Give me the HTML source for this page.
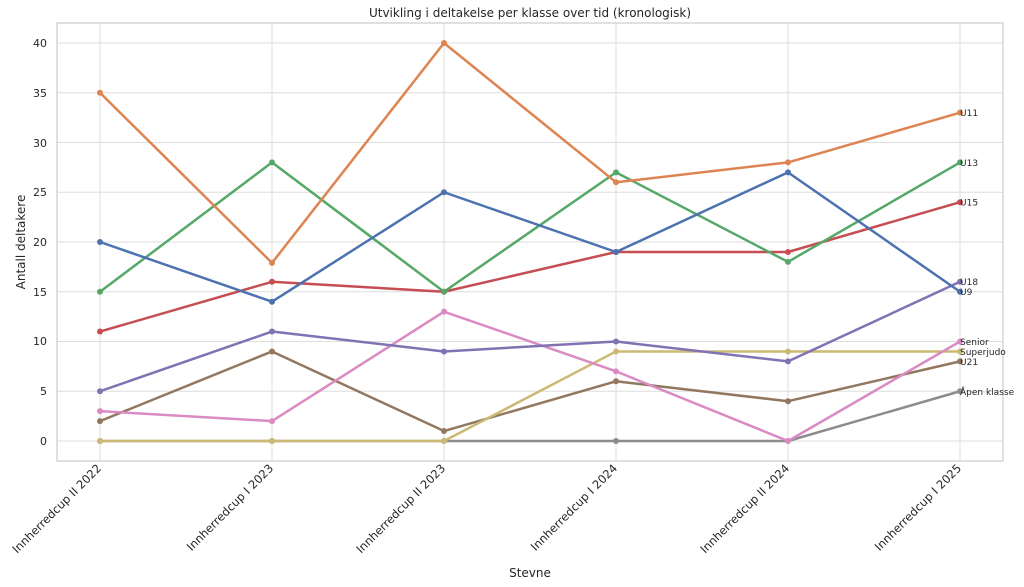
<!DOCTYPE html>
<html><head><meta charset="utf-8"><style>body{margin:0;background:#fff}svg{display:block}text{font-family:"DejaVu Sans","Liberation Sans",sans-serif;fill:#262626}</style></head>
<body>
<svg width="1024" height="587" xmlns="http://www.w3.org/2000/svg">
<rect width="1024" height="587" fill="#fff"/>
<g stroke="#dddddd" stroke-width="1">
<line x1="57" x2="1003" y1="441" y2="441"/><line x1="57" x2="1003" y1="391.25" y2="391.25"/><line x1="57" x2="1003" y1="341.5" y2="341.5"/><line x1="57" x2="1003" y1="291.75" y2="291.75"/><line x1="57" x2="1003" y1="242" y2="242"/><line x1="57" x2="1003" y1="192.25" y2="192.25"/><line x1="57" x2="1003" y1="142.5" y2="142.5"/><line x1="57" x2="1003" y1="92.75" y2="92.75"/><line x1="57" x2="1003" y1="43" y2="43"/>
<line x1="100" x2="100" y1="23" y2="461"/><line x1="272" x2="272" y1="23" y2="461"/><line x1="444" x2="444" y1="23" y2="461"/><line x1="616" x2="616" y1="23" y2="461"/><line x1="788" x2="788" y1="23" y2="461"/><line x1="960" x2="960" y1="23" y2="461"/>
</g>
<rect x="57" y="23" width="946" height="438" fill="none" stroke="#cccccc" stroke-width="1.2"/>
<g font-size="11" text-anchor="end">
<text x="47" y="445">0</text><text x="47" y="395">5</text><text x="47" y="345">10</text><text x="47" y="296">15</text><text x="47" y="246">20</text><text x="47" y="196">25</text><text x="47" y="147">30</text><text x="47" y="97">35</text><text x="47" y="47">40</text>
</g>
<g font-size="11.5" text-anchor="end">
<text transform="translate(102,469) rotate(-45)">Innherredcup II 2022</text>
<text transform="translate(274,469) rotate(-45)">Innherredcup I 2023</text>
<text transform="translate(446,469) rotate(-45)">Innherredcup II 2023</text>
<text transform="translate(618,469) rotate(-45)">Innherredcup I 2024</text>
<text transform="translate(790,469) rotate(-45)">Innherredcup II 2024</text>
<text transform="translate(962,469) rotate(-45)">Innherredcup I 2025</text>
</g>
<text x="530" y="17" font-size="12" text-anchor="middle">Utvikling i deltakelse per klasse over tid (kronologisk)</text>
<text x="530" y="577" font-size="12" text-anchor="middle">Stevne</text>
<text transform="translate(25,242) rotate(-90)" font-size="12" text-anchor="middle">Antall deltakere</text>
<g fill="none" stroke-width="2.5" stroke-linejoin="round">
<polyline stroke="#8c8c8c" points="100,441 272,441 444,441 616,441 788,441 960,391.25"/>
<polyline stroke="#937860" points="100,421.1 272,351.45 444,431.05 616,381.3 788,401.2 960,361.4"/>
<polyline stroke="#ccb974" points="100,441 272,441 444,441 616,351.45 788,351.45 960,351.45"/>
<polyline stroke="#da8bc3" points="100,411.15 272,421.1 444,311.65 616,371.35 788,441 960,341.5"/>
<polyline stroke="#8172b3" points="100,391.25 272,331.55 444,351.45 616,341.5 788,361.4 960,281.8"/>
<polyline stroke="#c44e52" points="100,331.55 272,281.8 444,291.75 616,252 788,252 960,202.2"/>
<polyline stroke="#55a868" points="100,291.75 272,162.4 444,291.75 616,172.35 788,261.9 960,162.4"/>
<polyline stroke="#4c72b0" points="100,242 272,301.7 444,192.25 616,252 788,172.35 960,291.75"/>
<polyline stroke="#dd8452" points="100,92.75 272,262.9 444,43 616,182.3 788,162.4 960,112.65"/>
</g>
<g>
<g fill="#8c8c8c"><circle cx="100" cy="441" r="3"/><circle cx="272" cy="441" r="3"/><circle cx="444" cy="441" r="3"/><circle cx="616" cy="441" r="3"/><circle cx="788" cy="441" r="3"/><circle cx="960" cy="391.25" r="3"/></g>
<g fill="#937860"><circle cx="100" cy="421.1" r="3"/><circle cx="272" cy="351.45" r="3"/><circle cx="444" cy="431.05" r="3"/><circle cx="616" cy="381.3" r="3"/><circle cx="788" cy="401.2" r="3"/><circle cx="960" cy="361.4" r="3"/></g>
<g fill="#ccb974"><circle cx="100" cy="441" r="3"/><circle cx="272" cy="441" r="3"/><circle cx="444" cy="441" r="3"/><circle cx="616" cy="351.45" r="3"/><circle cx="788" cy="351.45" r="3"/><circle cx="960" cy="351.45" r="3"/></g>
<g fill="#da8bc3"><circle cx="100" cy="411.15" r="3"/><circle cx="272" cy="421.1" r="3"/><circle cx="444" cy="311.65" r="3"/><circle cx="616" cy="371.35" r="3"/><circle cx="788" cy="441" r="3"/><circle cx="960" cy="341.5" r="3"/></g>
<g fill="#8172b3"><circle cx="100" cy="391.25" r="3"/><circle cx="272" cy="331.55" r="3"/><circle cx="444" cy="351.45" r="3"/><circle cx="616" cy="341.5" r="3"/><circle cx="788" cy="361.4" r="3"/><circle cx="960" cy="281.8" r="3"/></g>
<g fill="#c44e52"><circle cx="100" cy="331.55" r="3"/><circle cx="272" cy="281.8" r="3"/><circle cx="444" cy="291.75" r="3"/><circle cx="616" cy="252" r="3"/><circle cx="788" cy="252" r="3"/><circle cx="960" cy="202.2" r="3"/></g>
<g fill="#55a868"><circle cx="100" cy="291.75" r="3"/><circle cx="272" cy="162.4" r="3"/><circle cx="444" cy="291.75" r="3"/><circle cx="616" cy="172.35" r="3"/><circle cx="788" cy="261.9" r="3"/><circle cx="960" cy="162.4" r="3"/></g>
<g fill="#4c72b0"><circle cx="100" cy="242" r="3"/><circle cx="272" cy="301.7" r="3"/><circle cx="444" cy="192.25" r="3"/><circle cx="616" cy="252" r="3"/><circle cx="788" cy="172.35" r="3"/><circle cx="960" cy="291.75" r="3"/></g>
<g fill="#dd8452"><circle cx="100" cy="92.75" r="3"/><circle cx="272" cy="262.9" r="3"/><circle cx="444" cy="43" r="3"/><circle cx="616" cy="182.3" r="3"/><circle cx="788" cy="162.4" r="3"/><circle cx="960" cy="112.65" r="3"/></g>
</g>
<g font-size="9">
<text x="960" y="116">U11</text>
<text x="960" y="166">U13</text>
<text x="960" y="205.5">U15</text>
<text x="960" y="285">U18</text>
<text x="960" y="295">U9</text>
<text x="960" y="345">Senior</text>
<text x="960" y="355">Superjudo</text>
<text x="960" y="365">U21</text>
<text x="960" y="395">Åpen klasse</text>
</g>
</svg>
</body></html>
